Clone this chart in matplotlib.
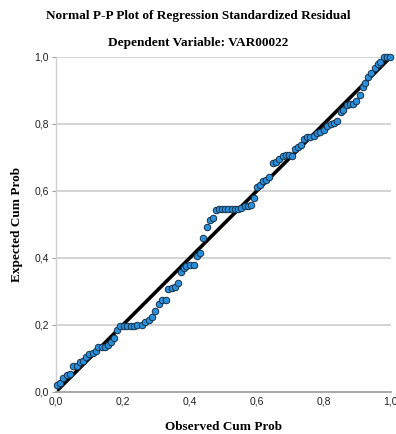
import matplotlib
matplotlib.use("Agg")
import matplotlib.pyplot as plt
from matplotlib.ticker import FuncFormatter

# observed cum prob (x) vs expected cum prob (y)
observed = [0.002, 0.012, 0.022, 0.032, 0.042, 0.052, 0.062, 0.072, 0.081, 0.090,
            0.100, 0.110, 0.120, 0.127, 0.137, 0.147, 0.157, 0.166, 0.175, 0.183,
            0.193, 0.203, 0.213, 0.223, 0.233, 0.243, 0.256, 0.266, 0.277, 0.286,
            0.296, 0.308, 0.318, 0.328, 0.336, 0.346, 0.356, 0.364, 0.375, 0.382,
            0.390, 0.400, 0.412, 0.420, 0.430, 0.439, 0.450, 0.460, 0.470, 0.478,
            0.487, 0.496, 0.506, 0.515, 0.525, 0.535, 0.545, 0.554, 0.564, 0.574,
            0.584, 0.591, 0.599, 0.609, 0.619, 0.627, 0.637, 0.647, 0.657, 0.667,
            0.677, 0.687, 0.696, 0.706, 0.713, 0.723, 0.733, 0.740, 0.750, 0.760,
            0.770, 0.780, 0.790, 0.800, 0.810, 0.820, 0.830, 0.840, 0.850, 0.858,
            0.868, 0.878, 0.888, 0.896, 0.907, 0.916, 0.923, 0.932, 0.942, 0.952,
            0.962, 0.967, 0.979, 0.989, 0.997]
expected = [0.021, 0.028, 0.041, 0.051, 0.053, 0.076, 0.076, 0.090, 0.093, 0.105,
            0.113, 0.117, 0.123, 0.133, 0.133, 0.135, 0.140, 0.148, 0.160, 0.185,
            0.197, 0.197, 0.197, 0.197, 0.198, 0.200, 0.200, 0.210, 0.215, 0.223,
            0.240, 0.263, 0.273, 0.273, 0.306, 0.309, 0.312, 0.326, 0.359, 0.369,
            0.376, 0.379, 0.379, 0.406, 0.414, 0.459, 0.493, 0.513, 0.518, 0.543,
            0.546, 0.546, 0.546, 0.546, 0.546, 0.546, 0.546, 0.548, 0.555, 0.556,
            0.558, 0.578, 0.613, 0.618, 0.628, 0.631, 0.641, 0.682, 0.687, 0.694,
            0.705, 0.707, 0.707, 0.705, 0.724, 0.732, 0.737, 0.754, 0.760, 0.760,
            0.764, 0.772, 0.777, 0.782, 0.794, 0.800, 0.804, 0.810, 0.834, 0.842,
            0.857, 0.860, 0.860, 0.867, 0.887, 0.911, 0.921, 0.939, 0.953, 0.966,
            0.979, 0.986, 0.999, 1.000, 1.000]
ref_line = [0.0, 1.0]
ticks = [0.0, 0.2, 0.4, 0.6, 0.8, 1.0]

serif = "Liberation Serif"
sans = "Liberation Sans"

fig = plt.figure(figsize=(3.96, 4.34), dpi=100)
ax = fig.add_axes([0.141, 0.097, 0.846, 0.772])

ax.set_xlim(0, 1)
ax.set_ylim(0, 1)

for t in ticks[1:]:
    ax.axhline(t, color="#d4d4d4", lw=1.4, zorder=0)

ax.plot(ref_line, ref_line, color="black", lw=2.6, zorder=2)
ax.scatter(observed, expected, s=22, facecolor="#2a8fd8", edgecolor="#17324a",
           linewidths=0.7, zorder=3, clip_on=False)

fmt = FuncFormatter(lambda v, p: ("%.1f" % v).replace(".", ","))
ax.set_xticks(ticks)
ax.set_yticks(ticks)
ax.xaxis.set_major_formatter(fmt)
ax.yaxis.set_major_formatter(fmt)
for lab in ax.get_xticklabels() + ax.get_yticklabels():
    lab.set_fontfamily(sans)
    lab.set_fontsize(7.5)
    lab.set_color("#222222")
ax.tick_params(axis="x", length=0, pad=3)
ax.tick_params(axis="y", length=3, width=0.8, color="#a0a0a0", pad=2)

for s in ["top", "right"]:
    ax.spines[s].set_visible(False)
ax.spines["bottom"].set_color("#9a9a9a")
ax.spines["bottom"].set_linewidth(1.2)
ax.spines["left"].set_color("#d0d0d0")
ax.spines["left"].set_linewidth(1.0)

ax.set_xlabel("Observed Cum Prob", fontfamily=serif, fontweight="bold",
              fontsize=9.5, labelpad=11)
ax.set_ylabel("Expected Cum Prob", fontfamily=serif, fontweight="bold",
              fontsize=9.5, labelpad=8)

fig.text(0.5, 0.962, "Normal P-P Plot of Regression Standardized Residual",
         ha="center", va="center", fontfamily=serif, fontweight="bold", fontsize=9.5)
fig.text(0.5, 0.902, "Dependent Variable: VAR00022",
         ha="center", va="center", fontfamily=serif, fontweight="bold", fontsize=9.5)

fig.savefig("out.png", dpi=100)
